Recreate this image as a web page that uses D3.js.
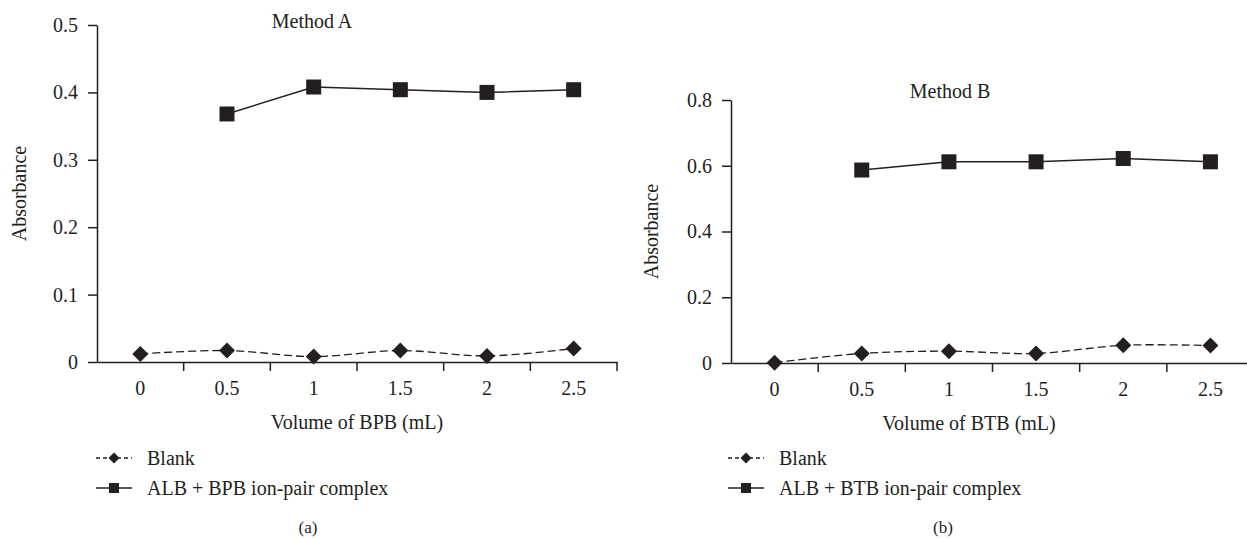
<!DOCTYPE html>
<html>
<head>
<meta charset="utf-8">
<script src="https://cdn.jsdelivr.net/npm/d3@7"></script>
<style>
  body { margin: 0; background: #fff; }
  svg text { font-family: "Liberation Serif", "DejaVu Serif", serif; fill: #231f20; }
</style>
</head>
<body>
<svg id="chart" width="1247" height="538"></svg>
<script>
// Volumes of dye (mL) - x categories
const volumes = ["0", "0.5", "1", "1.5", "2", "2.5"];
// Method A (BPB)
const blankA = [0.012, 0.017, 0.008, 0.017, 0.009, 0.020];
const complexA = [null, 0.368, 0.408, 0.404, 0.400, 0.404];
const yTicksA = [0, 0.1, 0.2, 0.3, 0.4, 0.5];
// Method B (BTB)
const blankB = [0.001, 0.029, 0.036, 0.029, 0.054, 0.053];
const complexB = [null, 0.587, 0.612, 0.612, 0.622, 0.612];
const yTicksB = [0, 0.2, 0.4, 0.6, 0.8];

const ink = "#231f20";
const svg = d3.select("#chart");

function diamond(r) {
  return `M0,${-r}L${r},0L0,${r}L${-r},0Z`;
}

function drawPanel(p) {
  const g = svg.append("g");
  const x = d3.scaleBand().domain(volumes).range([p.left, p.right]).padding(0);
  const y = d3.scaleLinear().domain([0, d3.max(p.yTicks)]).range([p.bottom, p.top]);

  // y axis
  const yAxis = g.append("g")
    .attr("transform", `translate(${p.left},0)`)
    .call(d3.axisLeft(y).tickValues(p.yTicks).tickSize(9).tickSizeOuter(0).tickPadding(10)
      .tickFormat(d => d === 0 ? "0" : d3.format(".1f")(d)));
  yAxis.selectAll("text").attr("font-size", 20).style("font-family", "Liberation Serif").attr("fill", ink);
  yAxis.selectAll("line,path").attr("stroke", ink).attr("stroke-width", 1.5);

  // x axis: labels at band centres, ticks at band edges
  const xAxis = g.append("g")
    .attr("transform", `translate(0,${p.bottom})`)
    .call(d3.axisBottom(x).tickSize(0).tickSizeOuter(0).tickPadding(19));
  xAxis.selectAll("text").attr("font-size", 20).style("font-family", "Liberation Serif").attr("fill", ink);
  xAxis.select("path").attr("stroke", ink).attr("stroke-width", 1.5);
  const edges = volumes.map(v => x(v)).concat([x(volumes[volumes.length - 1]) + x.bandwidth()]);
  xAxis.selectAll(".edge").data(edges.slice(1)).join("line")
    .attr("x1", d => d).attr("x2", d => d).attr("y1", 0).attr("y2", 9)
    .attr("stroke", ink).attr("stroke-width", 1.5);

  const cx = i => x(volumes[i]) + x.bandwidth() / 2;

  // Blank (smoothed, dashed)
  const blankLine = d3.line().x((d, i) => cx(i)).y(d => y(d)).curve(d3.curveCatmullRom.alpha(0));
  g.append("path").datum(p.blank)
    .attr("d", blankLine)
    .attr("fill", "none").attr("stroke", ink).attr("stroke-width", 1.3).attr("stroke-dasharray", "8,4");

  // complex (straight, solid)
  const pts = p.complex.map((v, i) => ({ v, i })).filter(d => d.v !== null);
  const cLine = d3.line().x(d => cx(d.i)).y(d => y(d.v));
  g.append("path").datum(pts)
    .attr("d", cLine)
    .attr("fill", "none").attr("stroke", ink).attr("stroke-width", 1.5);

  g.selectAll(".sq").data(pts).join("rect")
    .attr("x", d => cx(d.i) - 7.5).attr("y", d => y(d.v) - 7.5)
    .attr("width", 15).attr("height", 15).attr("fill", ink);

  g.selectAll(".dm").data(p.blank).join("path")
    .attr("d", diamond(8))
    .attr("transform", (d, i) => `translate(${cx(i)},${y(d)})`)
    .attr("fill", ink);

  // titles
  g.append("text").attr("x", p.titleX).attr("y", p.titleY)
    .attr("text-anchor", "middle").attr("font-size", 20).text(p.title);
  g.append("text")
    .attr("transform", `translate(${p.yLabelX},${(p.top + p.bottom) / 2}) rotate(-90)`)
    .attr("text-anchor", "middle").attr("dominant-baseline", "middle")
    .attr("font-size", 20).text("Absorbance");
  g.append("text").attr("x", (p.left + p.xEnd) / 2).attr("y", p.bottom + 67)
    .attr("text-anchor", "middle").attr("font-size", 20).text(p.xLabel);

  // legend
  const lx = p.legendX;
  const l1 = g.append("g").attr("transform", `translate(${lx},458)`);
  l1.append("line").attr("x1", 0).attr("x2", 36).attr("stroke", ink)
    .attr("stroke-width", 1.3).attr("stroke-dasharray", "4,3");
  l1.append("path").attr("d", diamond(5.5)).attr("transform", "translate(18,0)").attr("fill", ink);
  l1.append("text").attr("x", 51).attr("dy", "0.35em").attr("font-size", 20).text("Blank");

  const l2 = g.append("g").attr("transform", `translate(${lx},488)`);
  l2.append("line").attr("x1", 0).attr("x2", 36).attr("stroke", ink).attr("stroke-width", 1.5);
  l2.append("rect").attr("x", 13).attr("y", -5).attr("width", 10).attr("height", 10).attr("fill", ink);
  l2.append("text").attr("x", 51).attr("dy", "0.35em").attr("font-size", 20).text(p.legendLabel);

  g.append("text").attr("x", p.captionX).attr("y", 527).attr("dy", "0.35em")
    .attr("text-anchor", "middle").attr("font-size", 17).text(p.caption);
}

drawPanel({
  left: 97, right: 617, xEnd: 617, top: 25, bottom: 362,
  yTicks: yTicksA, blank: blankA, complex: complexA,
  title: "Method A", titleX: 312, titleY: 28, yLabelX: 21,
  xLabel: "Volume of BPB (mL)", legendX: 96,
  legendLabel: "ALB + BPB ion-pair complex", caption: "(a)", captionX: 308
});

drawPanel({
  left: 731, right: 1254, xEnd: 1207, top: 100, bottom: 363,
  yTicks: yTicksB, blank: blankB, complex: complexB,
  title: "Method B", titleX: 950, titleY: 98, yLabelX: 653,
  xLabel: "Volume of BTB (mL)", legendX: 728,
  legendLabel: "ALB + BTB ion-pair complex", caption: "(b)", captionX: 943
});
</script>
</body>
</html>
